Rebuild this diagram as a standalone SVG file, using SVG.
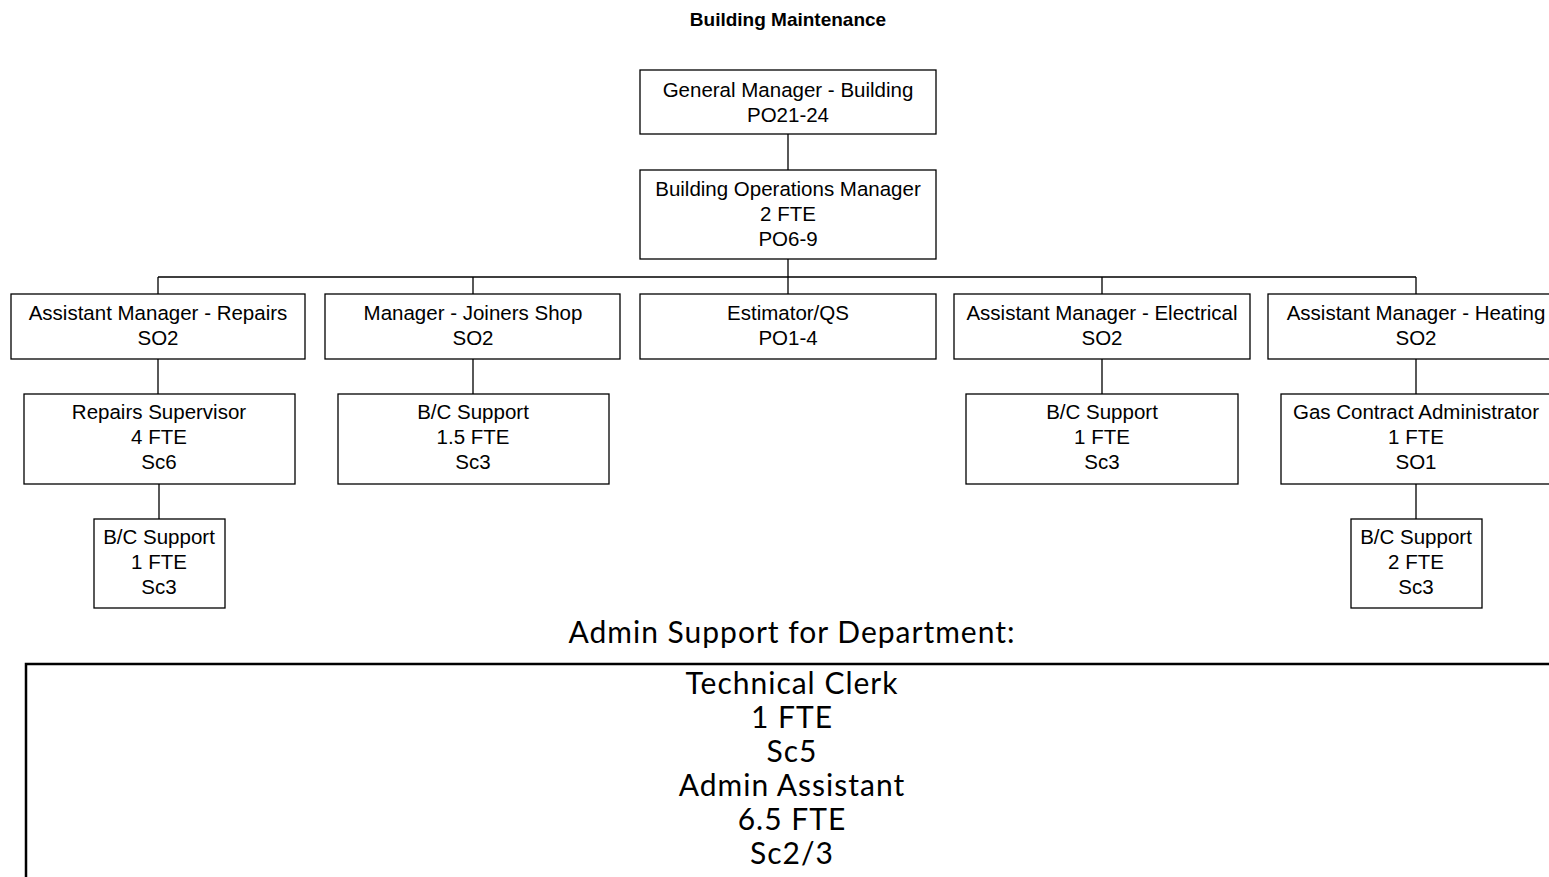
<svg xmlns="http://www.w3.org/2000/svg" width="1549" height="877" viewBox="0 0 1549 877">
<style>
.n rect{fill:#fff;stroke:#000;stroke-width:1.3}
.n text{font-family:"Liberation Sans",Arial,sans-serif;font-size:20.5px;fill:#000;text-anchor:middle}
#connectors path{fill:none;stroke:#000;stroke-width:1.3}
.title{font-family:"Liberation Sans",Arial,sans-serif;font-size:19px;font-weight:bold;text-anchor:middle}
.adm{font-family:Lato,"DejaVu Sans",sans-serif;font-size:30px;letter-spacing:1px;text-anchor:middle;fill:#000}
</style>
<rect width="1549" height="877" fill="#fff"/>
<text class="title" x="788" y="26">Building Maintenance</text>
<g id="connectors">
<path d="M788 134V170M788 259V277M158 277H1416M158 277V294M473 277V294M788 277V294M1102 277V294M1416 277V294M158 359V394M473 359V394M1102 359V394M1416 359V394M159 484V519M1416 484V519"/>
</g>
<g id="gm" class="n"><rect x="640" y="70" width="296" height="64"/><text x="788" y="97">General Manager - Building</text><text x="788" y="122">PO21-24</text></g>
<g id="bom" class="n"><rect x="640" y="170" width="296" height="89"/><text x="788" y="196">Building Operations Manager</text><text x="788" y="221">2 FTE</text><text x="788" y="246">PO6-9</text></g>
<g id="am-repairs" class="n"><rect x="11" y="294" width="294" height="65"/><text x="158" y="320">Assistant Manager - Repairs</text><text x="158" y="345">SO2</text></g>
<g id="m-joiners" class="n"><rect x="325" y="294" width="295" height="65"/><text x="473" y="320">Manager - Joiners Shop</text><text x="473" y="345">SO2</text></g>
<g id="estimator" class="n"><rect x="640" y="294" width="296" height="65"/><text x="788" y="320">Estimator/QS</text><text x="788" y="345">PO1-4</text></g>
<g id="am-electrical" class="n"><rect x="954" y="294" width="296" height="65"/><text x="1102" y="320">Assistant Manager - Electrical</text><text x="1102" y="345">SO2</text></g>
<g id="am-heating" class="n"><rect x="1268" y="294" width="296" height="65"/><text x="1416" y="320">Assistant Manager - Heating</text><text x="1416" y="345">SO2</text></g>
<g id="repairs-sup" class="n"><rect x="24" y="394" width="271" height="90"/><text x="159" y="419">Repairs Supervisor</text><text x="159" y="444">4 FTE</text><text x="159" y="469">Sc6</text></g>
<g id="bc-joiners" class="n"><rect x="338" y="394" width="271" height="90"/><text x="473" y="419">B/C Support</text><text x="473" y="444">1.5 FTE</text><text x="473" y="469">Sc3</text></g>
<g id="bc-electrical" class="n"><rect x="966" y="394" width="272" height="90"/><text x="1102" y="419">B/C Support</text><text x="1102" y="444">1 FTE</text><text x="1102" y="469">Sc3</text></g>
<g id="gas-admin" class="n"><rect x="1281" y="394" width="272" height="90"/><text x="1416" y="419">Gas Contract Administrator</text><text x="1416" y="444">1 FTE</text><text x="1416" y="469">SO1</text></g>
<g id="bc-repairs" class="n"><rect x="94" y="519" width="131" height="89"/><text x="159" y="544">B/C Support</text><text x="159" y="569">1 FTE</text><text x="159" y="594">Sc3</text></g>
<g id="bc-heating" class="n"><rect x="1351" y="519" width="131" height="89"/><text x="1416" y="544">B/C Support</text><text x="1416" y="569">2 FTE</text><text x="1416" y="594">Sc3</text></g>
<text class="adm" x="792" y="643">Admin Support for Department:</text>
<g id="admin-box">
<path d="M26 877V664H1560" fill="none" stroke="#000" stroke-width="2.5"/>
<text class="adm" x="792" y="694">Technical Clerk</text>
<text class="adm" x="792" y="728">1 FTE</text>
<text class="adm" x="792" y="762">Sc5</text>
<text class="adm" x="792" y="796">Admin Assistant</text>
<text class="adm" x="792" y="830">6.5 FTE</text>
<text class="adm" x="792" y="864">Sc2/3</text>
</g>
</svg>
